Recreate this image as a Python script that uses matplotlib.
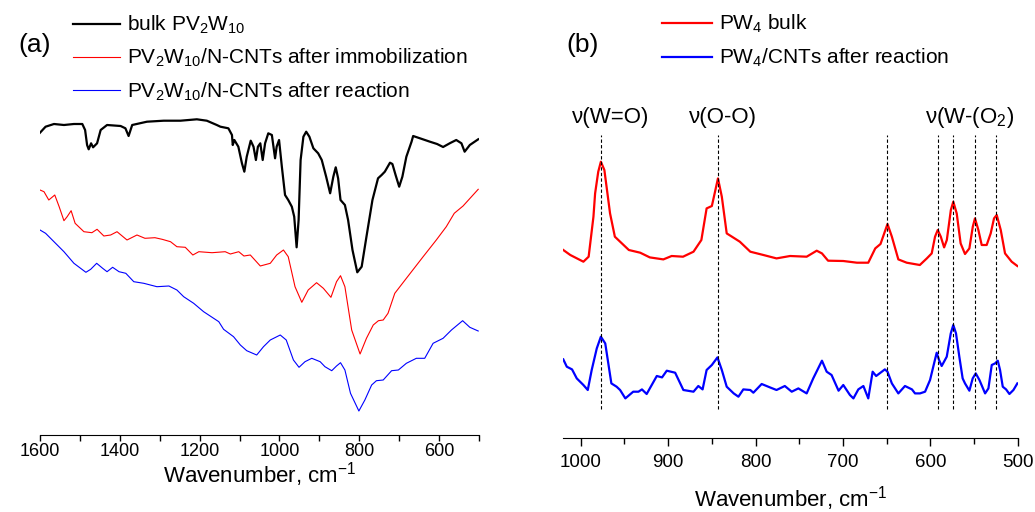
import numpy as np
import matplotlib
matplotlib.use("Agg")
import matplotlib.pyplot as plt

plt.rcParams['font.family'] = ['Liberation Sans', 'DejaVu Sans']
plt.rcParams['mathtext.fontset'] = 'custom'
plt.rcParams['mathtext.rm'] = 'Liberation Sans'
plt.rcParams['mathtext.it'] = 'Liberation Sans:italic'

# (a) IR spectra, intensities in arbitrary units (offset traces)
ir_bulk_wn = [1600, 1586, 1565, 1540, 1515, 1494, 1487, 1482, 1478, 1472, 1467, 1457, 1448, 1432,
              1398, 1386, 1378, 1369, 1332, 1290, 1248, 1207, 1182, 1157, 1148, 1128, 1119,
              1117, 1113, 1103, 1094, 1088, 1082, 1072, 1065, 1059, 1054, 1048, 1042, 1036,
              1028, 1019, 1011, 1007, 1001, 994, 986, 978, 969, 963, 957, 952, 947, 940, 933,
              925, 915, 903, 894, 883, 873, 865, 859, 853, 847, 836, 828, 817, 805, 794, 782,
              767, 753, 744, 736, 723, 717, 709, 700, 692, 682, 669, 665, 648, 623, 605, 590,
              572, 557, 544, 536, 523, 502]
ir_bulk = [302.3, 308.3, 311, 310, 311, 311, 305, 290, 285.7, 291.7, 287.7, 291.7, 305, 310,
           309, 306.7, 299, 310, 313.3, 314.3, 314.3, 315.7, 314.3, 310, 308.3, 306.7, 300,
           290, 295, 288.3, 271.7, 263.3, 278.3, 294.3, 288.3, 275, 288.3, 291.7, 275, 291.7,
           301.7, 300, 276.7, 288.3, 295, 268.3, 240, 235, 228.3, 218.3, 187.7, 215, 275, 298.3, 303.3,
           298.3, 286.7, 281.7, 275, 258.3, 241.7, 258.3, 267.7, 256.7, 235, 230, 215, 185, 162.7, 168.3, 198.3,
           235, 256.7, 260, 263.3, 272.3, 271, 260, 248.3, 258.3, 278.3, 293.3, 299, 296.7, 293.3, 291, 288,
           292, 295, 291.7, 283.3, 290, 295.7]

ir_immob_wn = [1600, 1590, 1578, 1563, 1552, 1540, 1532, 1522, 1512, 1490, 1470, 1457, 1440,
               1423, 1407, 1382, 1357, 1337, 1312, 1294, 1273, 1257, 1236, 1217, 1202, 1169,
               1136, 1123, 1102, 1089, 1073, 1048, 1023, 1007, 990, 978, 961, 944, 928, 907,
               890, 871, 857, 847, 836, 819, 798, 782, 765, 752, 740, 728, 711, 682, 640,
               607, 582, 562, 540, 502]
ir_immob = [245, 243.3, 235, 240, 228.3, 214.3, 218.3, 224.3, 211.7, 203.3, 202.3, 205.7, 199,
            200, 203.3, 195, 200, 196.7, 197.3, 195.7, 193.3, 188.3, 187.7, 180, 183.3, 182.3,
            183.3, 181, 183.3, 179, 180, 169, 171.7, 180, 185, 178.3, 148.3, 132.7, 145, 152.3,
            146.7, 137.7, 153.3, 159.3, 148.3, 105, 81, 96.7, 110, 114.3, 115, 121.7, 141.7, 156.7, 178.3,
            195, 208.3, 221.7, 229, 245.7]

ir_react_wn = [1600, 1586, 1565, 1540, 1515, 1485, 1473, 1458, 1443, 1432, 1418, 1402, 1385,
               1365, 1340, 1307, 1277, 1257, 1240, 1215, 1190, 1152, 1140, 1115, 1098, 1082,
               1057, 1040, 1023, 998, 983, 965, 951, 936, 919, 898, 886, 869, 857, 847, 836,
               822, 801, 786, 769, 757, 740, 719, 702, 682, 657, 636, 615, 590, 569, 541, 523, 502]
ir_react = [205, 201.7, 193.3, 183.3, 171.7, 162.7, 165.7, 171.7, 166.7, 163.3, 167.7, 163.3, 161.7,
            153.3, 151.7, 148.3, 149, 145, 138.3, 131.7, 123.3, 113.3, 105.7, 98.3, 90, 84.3,
            80, 88.3, 95, 100, 95, 75, 67.7, 73.3, 76.7, 73.3, 68.3, 64.3, 69, 72.3, 65,
            41.7, 24, 35, 50, 54.3, 55, 64.3, 65, 71.7, 76.7, 76.7, 91.7, 96.7, 105, 114.3, 107.7, 104]

# (b) Raman spectra
ra_bulk_wn = [1020, 1012, 997, 991, 985.5, 983.6, 980, 977, 973, 970, 966.5, 961, 945, 932, 921,
              905.5, 896, 883, 871, 862, 856, 850, 843, 838.6, 833, 827, 818, 806, 791, 776,
              760.5, 741.5, 730, 724, 717, 699.6, 684, 671, 663, 657, 649, 644, 636.6, 627,
              612, 604, 598.4, 594.6, 591.5, 588, 584.2, 581.1, 576.5, 573.7, 569.8, 565.3,
              560.3, 555.3, 551.4, 548.9, 545, 541.2, 535.5, 530.9, 527.1, 524, 519.4, 514.5,
              506.9, 500.4]
ra_bulk = [187.7, 182.7, 176, 181, 221, 244.3, 266, 276, 267.7, 247.7, 224.3, 201, 187.7, 185, 180.3,
           178.3, 181.7, 181, 186, 197.7, 229.3, 231.7, 259.3, 241, 204.3, 201, 196, 186, 182.7, 179.3,
           181.7, 181, 187, 184.3, 177, 176.7, 175, 175, 189.3, 193.7, 213.7, 201, 178.3, 175,
           172.7, 179.3, 184.3, 201, 207.7, 201, 190.3, 197.7, 227.7, 236, 224.3, 194.3,
           183.7, 189.3, 211, 219.3, 207.7, 192.7, 192.7, 204.3, 219.3, 222.7, 207.7, 184.3,
           176, 171.7]

ra_react_wn = [1020, 1016, 1010, 1004.6, 997, 992, 987.5, 981.7, 977, 972, 965, 959, 955, 949,
               940, 934, 930, 924.6, 913, 907, 901.6, 892, 882.6, 871, 865.5, 860.6, 856, 850,
               843.6, 838.6, 833, 825, 819.6, 814, 806, 802.5, 793, 783.5, 776, 766.5, 758.6,
               751, 741.5, 734, 724, 718.6, 713, 705, 699.6, 692, 688, 682.4, 676.6, 671, 666,
               662, 652, 649, 644, 636.6, 629, 621, 617.5, 611.8, 606, 600.3, 595.7, 592.7, 590,
               587, 581.2, 576.6, 573.7, 570.6, 566.8, 563, 560.3, 555.3, 551.5, 548, 543.8,
               537.3, 533.5, 529.7, 525.9, 522.8, 520.2, 517.1, 513.3, 509.5, 504.9, 500.4]
ra_react = [78.3, 71, 68.3, 59.3, 52.7, 47.7, 67.7, 89.3, 101, 94.3, 54.3, 51, 47.7, 39.3,
            46, 46, 48.3, 43.7, 61.7, 60.3, 67, 65, 47.7, 46, 51.7, 48.3, 67.7, 72.7,
            80.3, 67.7, 51, 44.3, 41, 48.3, 47.7, 45, 53.7, 50.3, 47.7, 51.7, 46,
            49.3, 44.3, 59.3, 77, 66, 62.7, 47, 52.7, 42.7, 39.3, 48.3, 51.7, 39.3, 66,
            61.7, 68.3, 66, 54.3, 44.3, 51.7, 48.3, 44.3, 44.3, 46, 57.7, 74.3, 85, 77.7,
            71.7, 81, 104.3, 112.7, 104.3, 81, 59.3, 54.3, 47, 59.3, 64.3, 57.7,
            44.3, 49.3, 72.7, 74.3, 77, 67.7, 51, 48.3, 43.7, 47.7, 54.3]

peak_wn = [977, 843, 649, 591.5, 574, 549, 525]

fig = plt.figure(figsize=(10.35, 5.12), dpi=100)

# ---------- (a) ----------
ax1 = fig.add_axes([40/1035, 77/512, 439/1035, 435/512])
ax1.plot(ir_bulk_wn, ir_bulk, color="black", lw=1.6, label=r"bulk PV$_2$W$_{10}$")
ax1.plot(ir_immob_wn, ir_immob, color="red", lw=0.8, label=r"PV$_2$W$_{10}$/N-CNTs after immobilization")
ax1.plot(ir_react_wn, ir_react, color="blue", lw=0.8, label=r"PV$_2$W$_{10}$/N-CNTs after reaction")
ax1.set_xlim(1600, 500)
ax1.set_ylim(0, 435)
ax1.set_xticks([1600, 1400, 1200, 1000, 800, 600])
ax1.set_xticks(np.arange(1500, 499, -200), minor=True)
ax1.tick_params(axis="x", which="major", labelsize=13, length=4, width=1, pad=2)
ax1.tick_params(axis="x", which="minor", length=4, width=1)
ax1.set_yticks([])
for s in ["left", "right", "top"]:
    ax1.spines[s].set_visible(False)
ax1.set_xlabel(r"Wavenumber, cm$^{-1}$", fontsize=16, labelpad=0)
ax1.patch.set_alpha(0)
ax1.legend(loc="upper left", bbox_to_anchor=(73/1035, 1 - 14/512), bbox_transform=fig.transFigure,
           frameon=False, fontsize=15, handlelength=2.26, handletextpad=0.34, labelspacing=0.52,
           borderaxespad=0, borderpad=0)
fig.text(35/1035, 1 - 45/512, "(a)", fontsize=19, ha="center", va="center")

# ---------- (b) ----------
ax2 = fig.add_axes([563.3/1035, 74.3/512, 454.4/1035, 437.7/512])
ax2.plot(ra_bulk_wn, ra_bulk, color="red", lw=1.6, label=r"PW$_4$ bulk")
ax2.plot(ra_react_wn, ra_react, color="blue", lw=1.6, label=r"PW$_4$/CNTs after reaction")
ax2.vlines(peak_wn, 29, 303, colors="black", linestyles=(0, (3, 2)), lw=0.8)
ax2.set_xlim(1020, 500)
ax2.set_ylim(0, 437.7)
ax2.set_xticks(np.arange(1000, 499, -100))
ax2.set_xticks(np.arange(950, 500, -100), minor=True)
ax2.tick_params(axis="x", which="major", labelsize=13.5, length=6, width=1, pad=6)
ax2.tick_params(axis="x", which="minor", length=4, width=1)
ax2.set_yticks([])
for s in ["left", "right", "top"]:
    ax2.spines[s].set_visible(False)
ax2.set_xlabel(r"Wavenumber, cm$^{-1}$", fontsize=16, labelpad=9)
ax2.patch.set_alpha(0)
ax2.legend(loc="upper left", bbox_to_anchor=(662/1035, 1 - 13/512), bbox_transform=fig.transFigure,
           frameon=False, fontsize=15, handlelength=2.4, handletextpad=0.34, labelspacing=0.56,
           borderaxespad=0, borderpad=0)
fig.text(583/1035, 1 - 45/512, "(b)", fontsize=19, ha="center", va="center")

ax2.text(966, 320, "ν(W=O)", fontsize=16, ha="center", va="center")
ax2.text(837, 320, "ν(O-O)", fontsize=16, ha="center", va="center")
ax2.text(555, 320, r"ν(W-(O$_2$)", fontsize=16, ha="center", va="center")

fig.savefig("out.png", dpi=100)
